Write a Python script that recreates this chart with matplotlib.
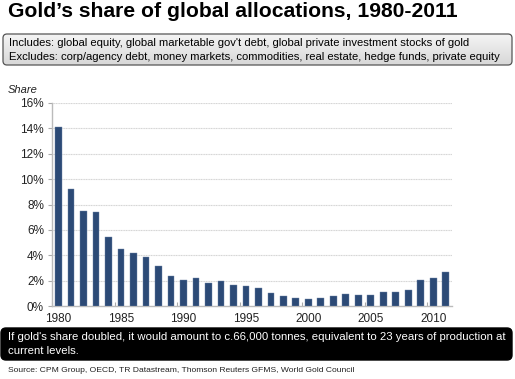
import matplotlib
matplotlib.use("Agg")
import matplotlib.pyplot as plt
import numpy as np
from matplotlib.patches import FancyBboxPatch
from matplotlib.ticker import FuncFormatter

plt.rcParams['font.family'] = ['Liberation Sans', 'DejaVu Sans']

years = list(range(1980, 2012))
share = [14.1, 9.2, 7.5, 7.4, 5.45, 4.5, 4.2, 3.85, 3.2, 2.4,
         2.1, 2.2, 1.85, 1.95, 1.7, 1.6, 1.4, 1.07, 0.84, 0.68,
         0.58, 0.63, 0.79, 0.97, 0.89, 0.89, 1.13, 1.13, 1.28, 2.1,
         2.2, 2.7]
yticks = [0, 2, 4, 6, 8, 10, 12, 14, 16]
label_years = [1980, 1985, 1990, 1995, 2000, 2005, 2010]

W, H = 515, 379
fig = plt.figure(figsize=(W / 100, H / 100), dpi=100)

# overlay in pixel coords for boxes and text
ov = fig.add_axes([0, 0, 1, 1])
ov.set_xlim(0, W)
ov.set_ylim(H, 0)
ov.axis('off')

ov.text(8, 11.5, "Gold\u2019s share of global allocations, 1980-2011",
        fontsize=15.2, fontweight='bold', va='center', ha='left')

# grey gradient box
box = FancyBboxPatch((3, 34), 509, 31, boxstyle="round,pad=0,rounding_size=4",
                     facecolor='none', edgecolor='#555555', linewidth=0.9, zorder=3)
ov.add_patch(box)
grad = np.linspace(0, 1, 50).reshape(-1, 1)
img = ov.imshow(grad, cmap=matplotlib.colors.LinearSegmentedColormap.from_list(
    'g', ['#f4f4f4', '#d8d8d8']), extent=(3, 512, 65, 34), aspect='auto', zorder=2)
img.set_clip_path(box)
ov.set_xlim(0, W)
ov.set_ylim(H, 0)
ov.text(9, 42.5, "Includes: global equity, global marketable gov't debt, global private investment stocks of gold",
        fontsize=8.15, va='center', zorder=4)
ov.text(9, 56.5, "Excludes: corp/agency debt, money markets, commodities, real estate, hedge funds, private equity",
        fontsize=8.15, va='center', zorder=4)

# black note box
note = FancyBboxPatch((1, 328), 511, 32, boxstyle="round,pad=0,rounding_size=5",
                      facecolor='black', edgecolor='black', zorder=3)
ov.add_patch(note)
ov.text(8, 337, "If gold's share doubled, it would amount to c.66,000 tonnes, equivalent to 23 years of production at",
        fontsize=8.2, color='white', va='center', zorder=4)
ov.text(8, 351.5, "current levels.", fontsize=8.2, color='white', va='center', zorder=4)

ov.text(8, 370, "Source: CPM Group, OECD, TR Datastream, Thomson Reuters GFMS, World Gold Council",
        fontsize=6.1, va='center', color='#222222')

# chart axes
x0, x1, ytop, ybot = 52.3, 452, 102.7, 306.3
ax = fig.add_axes([x0 / W, (H - ybot) / H, (x1 - x0) / W, (ybot - ytop) / H])
ax.set_zorder(5)
ax.patch.set_alpha(0)
pos = np.arange(len(years))
ax.bar(pos, share, width=0.54, color='#2c4a76', edgecolor='#6f86a8', linewidth=0.3, zorder=3)
ax.set_xlim(-0.5, len(years) - 0.5)
ax.set_ylim(0, 16)
ax.set_yticks(yticks)
ax.yaxis.set_major_formatter(FuncFormatter(lambda v, p: f"{v:.0f}%"))
for y in yticks[1:]:
    ax.axhline(y, color='#d4d4d4', linewidth=0.8, linestyle=(0, (1, 0.5)), zorder=1)

lab_pos = [years.index(y) for y in label_years]
ax.set_xticks([p - 0.5 for p in lab_pos])
ax.set_xticklabels([])
ax.set_xticks(lab_pos, minor=True)
ax.set_xticklabels([str(y) for y in label_years], minor=True)
ax.tick_params(axis='x', which='minor', length=0, pad=5, labelsize=8.5, labelcolor='#222222')
ax.tick_params(axis='x', which='major', length=3, direction='in', color='#aaaaaa')
ax.tick_params(axis='y', length=3, color='#aaaaaa', labelsize=8.5, labelcolor='#222222', pad=3)
for s in ['top', 'right']:
    ax.spines[s].set_visible(False)
ax.spines['left'].set_color('#bbbbbb')
ax.spines['bottom'].set_color('#bbbbbb')
ax.spines['left'].set_linewidth(1.0)
ax.spines['bottom'].set_linewidth(1.0)

ov.text(8, 90, "Share", fontsize=8, style='italic', va='center', color='#222222')

fig.savefig("out.png", dpi=100)
